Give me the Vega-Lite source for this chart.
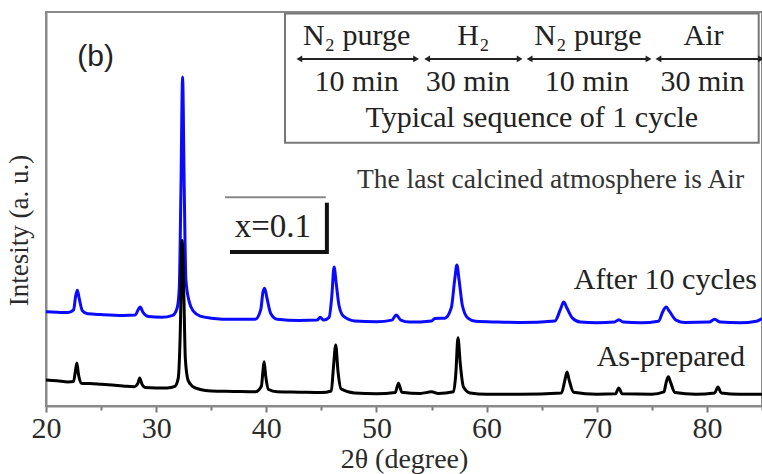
{
  "$schema": "https://vega.github.io/schema/vega-lite/v6.json",
  "width": 716,
  "height": 394,
  "autosize": {"type": "none"},
  "padding": {"left": 46, "top": 12, "right": 0, "bottom": 68},
  "background": "white",
  "config": {
    "view": {"stroke": "#8a8a8a", "strokeWidth": 2},
    "font": "Liberation Serif"
  },
  "datasets": {
    "black": [
      {"t": 20.0, "i": 6.6}, {"t": 21.0, "i": 6.4}, {"t": 22.0, "i": 6.1}, {"t": 22.5, "i": 6.2}, {"t": 22.65, "i": 8.5}, {"t": 22.8, "i": 10.9}, {"t": 22.95, "i": 8.0}, {"t": 23.2, "i": 5.8},
      {"t": 24.0, "i": 5.7}, {"t": 25.0, "i": 5.5}, {"t": 26.0, "i": 5.3}, {"t": 27.0, "i": 5.1}, {"t": 28.0, "i": 4.9}, {"t": 28.35, "i": 5.8}, {"t": 28.5, "i": 7.1}, {"t": 28.7, "i": 5.6},
      {"t": 29.0, "i": 4.7}, {"t": 30.0, "i": 4.6}, {"t": 31.0, "i": 4.6}, {"t": 31.7, "i": 5.0}, {"t": 32.0, "i": 7.0}, {"t": 32.2, "i": 20}, {"t": 32.35, "i": 42}, {"t": 32.5, "i": 30},
      {"t": 32.65, "i": 12}, {"t": 32.9, "i": 6.5}, {"t": 33.3, "i": 5.0}, {"t": 34.0, "i": 4.2}, {"t": 35.0, "i": 3.8}, {"t": 37.0, "i": 3.7}, {"t": 39.0, "i": 3.6}, {"t": 39.55, "i": 5.0},
      {"t": 39.7, "i": 9.0}, {"t": 39.8, "i": 11.2}, {"t": 39.95, "i": 7.5}, {"t": 40.2, "i": 4.2}, {"t": 41.0, "i": 3.6}, {"t": 43.0, "i": 3.5}, {"t": 45.0, "i": 3.4}, {"t": 45.9, "i": 3.8},
      {"t": 46.1, "i": 10}, {"t": 46.3, "i": 15.5}, {"t": 46.5, "i": 9}, {"t": 46.8, "i": 4.3}, {"t": 48, "i": 3.3}, {"t": 50, "i": 3.1}, {"t": 51.7, "i": 3.4}, {"t": 52.0, "i": 5.8},
      {"t": 52.3, "i": 3.5}, {"t": 54, "i": 3.2}, {"t": 55.0, "i": 3.6}, {"t": 55.6, "i": 3.2}, {"t": 57.0, "i": 3.6}, {"t": 57.2, "i": 8}, {"t": 57.4, "i": 17.3}, {"t": 57.6, "i": 11},
      {"t": 57.9, "i": 4.8}, {"t": 58.5, "i": 3.3}, {"t": 60, "i": 3.0}, {"t": 63, "i": 3.0}, {"t": 66.8, "i": 3.3}, {"t": 67.1, "i": 6.5}, {"t": 67.3, "i": 8.6}, {"t": 67.5, "i": 6.5},
      {"t": 67.9, "i": 3.5}, {"t": 70, "i": 3.0}, {"t": 71.7, "i": 3.1}, {"t": 72.0, "i": 4.6}, {"t": 72.3, "i": 3.1}, {"t": 75, "i": 3.0}, {"t": 76.1, "i": 3.6}, {"t": 76.3, "i": 6},
      {"t": 76.5, "i": 7.4}, {"t": 76.7, "i": 6}, {"t": 77.1, "i": 3.4}, {"t": 79, "i": 3.0}, {"t": 80.7, "i": 3.3}, {"t": 81.0, "i": 4.8}, {"t": 81.3, "i": 3.3}, {"t": 83, "i": 3.0}, {"t": 85, "i": 3.0}
    ],
    "blue": [
      {"t": 20.0, "i": 23.9}, {"t": 21.0, "i": 23.8}, {"t": 22.0, "i": 23.7}, {"t": 22.5, "i": 24.4}, {"t": 22.7, "i": 28}, {"t": 22.85, "i": 29.4}, {"t": 23.0, "i": 27.5}, {"t": 23.3, "i": 24.2},
      {"t": 23.8, "i": 23.4}, {"t": 25.0, "i": 23.2}, {"t": 27.0, "i": 23.0}, {"t": 28.1, "i": 23.1}, {"t": 28.4, "i": 24.6}, {"t": 28.55, "i": 25.1}, {"t": 28.8, "i": 23.8}, {"t": 29.3, "i": 22.7},
      {"t": 30.5, "i": 22.5}, {"t": 31.5, "i": 23.0}, {"t": 31.9, "i": 24.8}, {"t": 32.1, "i": 30}, {"t": 32.25, "i": 55}, {"t": 32.4, "i": 83.5}, {"t": 32.55, "i": 55}, {"t": 32.7, "i": 32},
      {"t": 33.0, "i": 26.5}, {"t": 33.4, "i": 24.0}, {"t": 34.0, "i": 22.8}, {"t": 35.0, "i": 22.3}, {"t": 37.0, "i": 22.0}, {"t": 39.0, "i": 22.0}, {"t": 39.5, "i": 24.5}, {"t": 39.7, "i": 29},
      {"t": 39.85, "i": 29.9}, {"t": 40.05, "i": 27.5}, {"t": 40.4, "i": 23.5}, {"t": 41.0, "i": 22.0}, {"t": 43.0, "i": 21.7}, {"t": 44.6, "i": 21.8}, {"t": 44.9, "i": 22.5}, {"t": 45.2, "i": 21.8},
      {"t": 45.7, "i": 22.5}, {"t": 45.95, "i": 28}, {"t": 46.15, "i": 35.3}, {"t": 46.35, "i": 31}, {"t": 46.6, "i": 25.5}, {"t": 47.0, "i": 22.8}, {"t": 48.0, "i": 21.6}, {"t": 50.0, "i": 21.4},
      {"t": 51.4, "i": 21.8}, {"t": 51.8, "i": 23.1}, {"t": 52.2, "i": 21.8}, {"t": 53, "i": 21.3}, {"t": 55.0, "i": 21.6}, {"t": 55.3, "i": 22.2}, {"t": 56.2, "i": 22.3}, {"t": 56.8, "i": 25},
      {"t": 57.1, "i": 32}, {"t": 57.3, "i": 35.8}, {"t": 57.5, "i": 32}, {"t": 57.8, "i": 25.5}, {"t": 58.3, "i": 22.3}, {"t": 59.0, "i": 21.5}, {"t": 61, "i": 21.3}, {"t": 63, "i": 21.2},
      {"t": 66.2, "i": 21.6}, {"t": 66.7, "i": 24.5}, {"t": 67.0, "i": 26.4}, {"t": 67.3, "i": 24.8}, {"t": 67.8, "i": 22.3}, {"t": 68.5, "i": 21.3}, {"t": 70, "i": 21.1}, {"t": 71.6, "i": 21.3},
      {"t": 72.0, "i": 21.9}, {"t": 72.4, "i": 21.3}, {"t": 74, "i": 21.1}, {"t": 75.6, "i": 21.5}, {"t": 76.0, "i": 24}, {"t": 76.3, "i": 25.1}, {"t": 76.6, "i": 24}, {"t": 77.2, "i": 21.8},
      {"t": 78, "i": 21.2}, {"t": 80.2, "i": 21.3}, {"t": 80.7, "i": 22.0}, {"t": 81.2, "i": 21.3}, {"t": 83, "i": 21.1}, {"t": 84.5, "i": 21.5}, {"t": 85, "i": 22.2}
    ],
    "arrows": [
      {"x1": 43.0, "x2": 53.6, "y": 88.1},
      {"x1": 54.6, "x2": 63.0, "y": 88.1},
      {"x1": 63.9, "x2": 74.7, "y": 88.1},
      {"x1": 75.6, "x2": 84.9, "y": 88.1}
    ],
    "boxtext": [
      {"x": 48.2, "y": 93.9, "label": "N₂ purge"},
      {"x": 58.8, "y": 93.9, "label": "H₂"},
      {"x": 69.2, "y": 93.9, "label": "N₂ purge"},
      {"x": 79.7, "y": 93.9, "label": "Air"},
      {"x": 48.2, "y": 82.2, "label": "10 min"},
      {"x": 58.3, "y": 82.2, "label": "30 min"},
      {"x": 69.1, "y": 82.2, "label": "10 min"},
      {"x": 79.6, "y": 82.2, "label": "30 min"},
      {"x": 64.1, "y": 73.1, "label": "Typical sequence of 1 cycle"}
    ]
  },
  "layer": [
    {
      "data": {"name": "blue"},
      "mark": {"type": "line", "color": "#0a0aff", "strokeWidth": 3, "interpolate": "monotone"},
      "encoding": {
        "x": {
          "field": "t", "type": "quantitative",
          "scale": {"domain": [20, 85], "nice": false, "zero": false},
          "axis": {
            "values": [20, 25, 30, 35, 40, 45, 50, 55, 60, 65, 70, 75, 80, 85],
            "labelExpr": "datum.value % 10 === 0 ? datum.label : ''",
            "tickSize": {"expr": "datum.value % 10 === 0 ? 6 : 4"},
            "tickColor": "#777",
            "tickWidth": 2,
            "domainColor": "#8a8a8a",
            "domainWidth": 2,
            "grid": false,
            "labelFont": "Liberation Serif",
            "labelFontSize": 30,
            "labelColor": "#2a2a2a",
            "labelPadding": 1,
            "labelFlush": false,
            "title": "2θ (degree)",
            "titleFont": "Liberation Serif",
            "titleFontSize": 28,
            "titleFontWeight": "normal",
            "titleColor": "#2a2a2a",
            "titleBaseline": "alphabetic",
            "titleY": 61
          }
        },
        "y": {
          "field": "i", "type": "quantitative",
          "scale": {"domain": [0, 100], "nice": false},
          "axis": {
            "labels": false,
            "ticks": false,
            "grid": false,
            "domainColor": "#8a8a8a",
            "domainWidth": 2,
            "title": "Intesity (a. u.)",
            "titleFont": "Liberation Serif",
            "titleFontSize": 27,
            "titleFontWeight": "normal",
            "titleColor": "#2a2a2a",
            "titleX": -27,
            "titleY": 218,
            "titleAlign": "center",
            "titleBaseline": "middle"
          }
        }
      }
    },
    {
      "data": {"name": "black"},
      "mark": {"type": "line", "color": "#000000", "strokeWidth": 3, "interpolate": "monotone"},
      "encoding": {
        "x": {"field": "t", "type": "quantitative"},
        "y": {"field": "i", "type": "quantitative"}
      }
    },
    {
      "data": {"values": [{"x1": 41.7, "x2": 84.7, "y1": 66.8, "y2": 99.6}]},
      "mark": {"type": "rect", "fill": "white", "fillOpacity": 0, "stroke": "#777", "strokeWidth": 2},
      "encoding": {
        "x": {"field": "x1", "type": "quantitative"},
        "x2": {"field": "x2"},
        "y": {"field": "y1", "type": "quantitative"},
        "y2": {"field": "y2"}
      }
    },
    {
      "data": {"name": "arrows"},
      "mark": {"type": "rule", "color": "#222", "strokeWidth": 2},
      "encoding": {
        "x": {"field": "x1", "type": "quantitative"},
        "x2": {"field": "x2"},
        "y": {"field": "y", "type": "quantitative"}
      }
    },
    {
      "data": {"name": "arrows"},
      "mark": {"type": "point", "shape": "triangle-left", "filled": true, "color": "#222", "size": 45, "opacity": 1},
      "encoding": {
        "x": {"field": "x1", "type": "quantitative"},
        "y": {"field": "y", "type": "quantitative"}
      }
    },
    {
      "data": {"name": "arrows"},
      "mark": {"type": "point", "shape": "triangle-right", "filled": true, "color": "#222", "size": 45, "opacity": 1},
      "encoding": {
        "x": {"field": "x2", "type": "quantitative"},
        "y": {"field": "y", "type": "quantitative"}
      }
    },
    {
      "data": {"name": "boxtext"},
      "mark": {"type": "text", "font": "Liberation Serif", "fontSize": 30, "color": "#222", "align": "center", "baseline": "middle"},
      "encoding": {
        "x": {"field": "x", "type": "quantitative"},
        "y": {"field": "y", "type": "quantitative"},
        "text": {"field": "label"}
      }
    },
    {
      "data": {"values": [{"x": 24.5, "y": 88.6, "label": "(b)"}]},
      "mark": {"type": "text", "font": "Liberation Sans", "fontSize": 30, "color": "#222", "align": "center", "baseline": "middle"},
      "encoding": {
        "x": {"field": "x", "type": "quantitative"},
        "y": {"field": "y", "type": "quantitative"},
        "text": {"field": "label"}
      }
    },
    {
      "data": {"values": [{"x": 65.8, "y": 57.4, "label": "The last calcined atmosphere is Air"}]},
      "mark": {"type": "text", "font": "Liberation Serif", "fontSize": 27.5, "color": "#333", "align": "center", "baseline": "middle"},
      "encoding": {
        "x": {"field": "x", "type": "quantitative"},
        "y": {"field": "y", "type": "quantitative"},
        "text": {"field": "label"}
      }
    },
    {
      "data": {"values": [{"x": 40.6, "y": 45.4, "label": "x=0.1"}]},
      "mark": {"type": "text", "font": "Liberation Serif", "fontSize": 33, "color": "#222", "align": "center", "baseline": "middle"},
      "encoding": {
        "x": {"field": "x", "type": "quantitative"},
        "y": {"field": "y", "type": "quantitative"},
        "text": {"field": "label"}
      }
    },
    {
      "data": {"values": [{"x1": 36.25, "x2": 45.4, "y": 53.0}]},
      "mark": {"type": "rule", "color": "#888", "strokeWidth": 2},
      "encoding": {
        "x": {"field": "x1", "type": "quantitative"},
        "x2": {"field": "x2"},
        "y": {"field": "y", "type": "quantitative"}
      }
    },
    {
      "data": {"values": [{"x1": 36.7, "x2": 45.6, "y": 39.1}]},
      "mark": {"type": "rule", "color": "#111", "strokeWidth": 4},
      "encoding": {
        "x": {"field": "x1", "type": "quantitative"},
        "x2": {"field": "x2"},
        "y": {"field": "y", "type": "quantitative"}
      }
    },
    {
      "data": {"values": [{"x": 45.5, "y1": 51.6, "y2": 38.6}]},
      "mark": {"type": "rule", "color": "#111", "strokeWidth": 4},
      "encoding": {
        "x": {"field": "x", "type": "quantitative"},
        "y": {"field": "y1", "type": "quantitative"},
        "y2": {"field": "y2"}
      }
    },
    {
      "data": {"values": [{"x": 84.55, "y": 32.0, "label": "After 10 cycles"}, {"x": 83.45, "y": 12.4, "label": "As-prepared"}]},
      "mark": {"type": "text", "font": "Liberation Serif", "fontSize": 30, "color": "#222", "align": "right", "baseline": "middle"},
      "encoding": {
        "x": {"field": "x", "type": "quantitative"},
        "y": {"field": "y", "type": "quantitative"},
        "text": {"field": "label"}
      }
    }
  ]
}
